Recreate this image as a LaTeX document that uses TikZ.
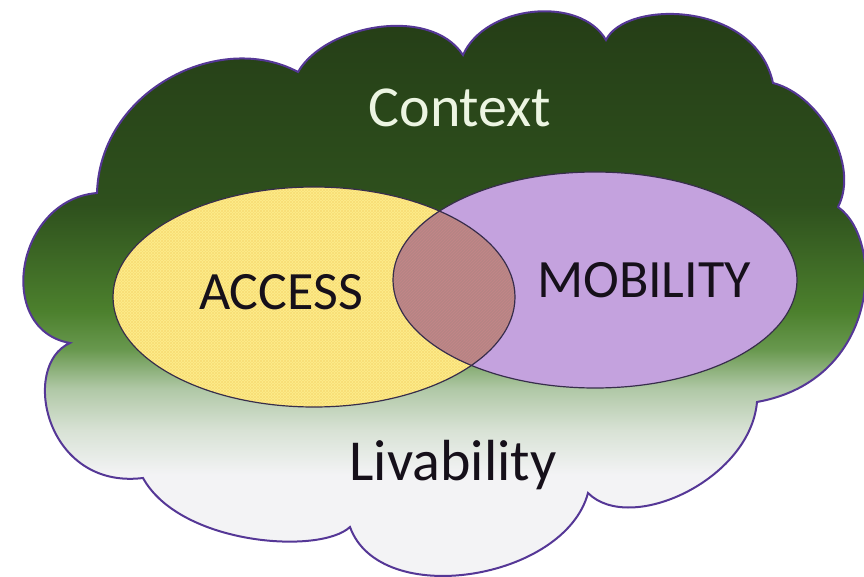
\documentclass[tikz,border=0pt]{standalone}
\usepackage{fontspec}
\setmainfont{Carlito}
\usetikzlibrary{patterns}

\definecolor{cloudline}{RGB}{85,55,150}
\definecolor{ellline}{RGB}{55,45,75}
\definecolor{accfill}{RGB}{254,238,140}
\definecolor{acchatch}{RGB}{248,222,118}
\definecolor{mobfill}{RGB}{196,162,222}
\definecolor{lensfill}{RGB}{182,132,132}
\definecolor{lenshatch}{RGB}{196,134,136}
\definecolor{ctxtext}{RGB}{236,245,226}
\definecolor{darktext}{RGB}{22,16,26}
\definecolor{gc0}{RGB}{36,60,22}
\definecolor{gc1}{RGB}{46,80,29}
\definecolor{gc2}{RGB}{76,128,45}
\definecolor{gc2b}{RGB}{104,152,78}
\definecolor{gc3}{RGB}{176,200,166}
\definecolor{gc4}{RGB}{216,226,213}
\definecolor{gc5}{RGB}{243,243,245}

\pgfdeclareverticalshading{cloudshade}{100bp}{color(0bp)=(gc5); color(36bp)=(gc5); color(39.6bp)=(gc4); color(43bp)=(gc3); color(46.2bp)=(gc2b); color(49.3bp)=(gc2); color(58bp)=(gc1); color(75bp)=(gc0); color(100bp)=(gc0)}

\tikzset{
  cloudstyle/.style={draw=cloudline, line width=2pt, shading=cloudshade},
  ellborder/.style={draw=ellline, line width=1.2pt},
  bigtext/.style={font=\fontsize{58}{62}\selectfont, anchor=base, inner sep=0pt},
  midtext/.style={font=\fontsize{54}{58}\selectfont, anchor=base, inner sep=0pt, text=darktext},
}

\begin{document}
\begin{tikzpicture}[x=1pt,y=-1pt]
\useasboundingbox (0,0) rectangle (864,577);

% cloud
\path[cloudstyle] (97,193)
  .. controls (100,90) and (220,30) .. (298,72)
  .. controls (325,25) and (430,5) .. (463,55)
  .. controls (485,5) and (580,-5) .. (606,40)
  .. controls (625,0) and (755,0) .. (773,83)
  .. controls (820,95) and (860,165) .. (838,207)
  .. controls (885,240) and (880,380) .. (757,402)
  .. controls (750,480) and (630,535) .. (588,493)
  .. controls (565,580) and (380,610) .. (350,527)
  .. controls (320,555) and (180,545) .. (143,478)
  .. controls (45,490) and (20,365) .. (70,343)
  .. controls (-5,330) and (15,200) .. (97,193) -- cycle;

% ACCESS ellipse
\fill[accfill] (314,297) ellipse [x radius=201, y radius=110];
\path[pattern=north east lines, pattern color=acchatch] (314,297) ellipse [x radius=201, y radius=110];
\path[pattern=north west lines, pattern color=acchatch] (314,297) ellipse [x radius=201, y radius=110];

% MOBILITY ellipse
\fill[mobfill] (595,280) ellipse [x radius=202, y radius=108];

% overlap
\begin{scope}
  \clip (314,297) ellipse [x radius=201, y radius=110];
  \fill[lensfill] (595,280) ellipse [x radius=202, y radius=108];
  \path[pattern=north east lines, pattern color=lenshatch] (595,280) ellipse [x radius=202, y radius=108];
\end{scope}

% outlines
\draw[ellborder] (314,297) ellipse [x radius=201, y radius=110];
\draw[ellborder] (595,280) ellipse [x radius=202, y radius=108];

% texts
\node[bigtext, text=ctxtext] (context) at (460,127) {Context};
\node[midtext] (access) at (281,309) {ACCESS};
\node[midtext] (mobility) at (644,297) {MOBILITY};
\node[bigtext, text=darktext] (livability) at (453,480) {Livability};
\end{tikzpicture}
\end{document}
